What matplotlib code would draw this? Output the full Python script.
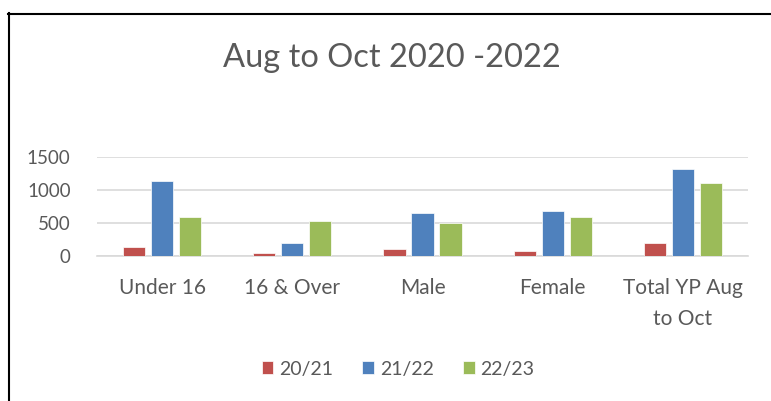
import numpy as np
import matplotlib
matplotlib.use('Agg')
import matplotlib.pyplot as plt
from matplotlib.lines import Line2D

categories = ['Under 16', '16 & Over', 'Male', 'Female', 'Total YP Aug\nto Oct']
series = ['20/21', '21/22', '22/23']
v2021 = [130, 40, 100, 70, 190]
v2122 = [1135, 195, 650, 680, 1315]
v2223 = [590, 525, 495, 590, 1105]
COL = {'20/21': '#C0504D', '21/22': '#4F81BD', '22/23': '#9BBB59'}
TXT = '#595959'

plt.rcParams.update({'font.family': ['Lato', 'DejaVu Sans']})

fig = plt.figure(figsize=(7.71, 4.01), dpi=100)
ax = fig.add_axes([97 / 771, 1 - 256 / 401, 651 / 771, 99 / 401])

x = np.arange(len(categories))
w = 0.17
step = 0.215
for k, (s, vals) in enumerate(zip(series, [v2021, v2122, v2223])):
    ax.bar(x + (k - 1) * step, vals, w, color=COL[s], edgecolor='white', lw=0.5, label=s, zorder=3)

ax.set_xlim(-0.5, 4.5); ax.set_ylim(0, 1500)
ax.set_yticks([0, 500, 1000, 1500])
ax.grid(axis='y', color='#D9D9D9', lw=1.2, zorder=0)
for sp in ('top', 'right', 'left'):
    ax.spines[sp].set_visible(False)
ax.spines['bottom'].set_color('#D9D9D9'); ax.spines['bottom'].set_linewidth(1.2)
ax.set_xticks(x); ax.set_xticklabels(categories, fontsize=15, color=TXT, linespacing=1.65, va='top')
ax.tick_params(axis='x', length=0, colors=TXT, labelsize=15, pad=16)
ax.tick_params(axis='y', length=0, colors=TXT, labelsize=13.5, pad=19)

fig.text(392 / 771, 1 - 58 / 401, 'Aug to Oct 2020 -2022', ha='center', va='center',
         fontsize=23.5, color=TXT)
fig.legend(loc='center', bbox_to_anchor=(398 / 771, 1 - 369 / 401), ncol=3, frameon=False,
           fontsize=14, labelcolor=TXT, handlelength=0.6, handleheight=0.6, handletextpad=0.3,
           columnspacing=1.5)

# chart border (top and left edges only, as in the screenshot)
fig.add_artist(Line2D([8 / 771, 1], [1 - 13.5 / 401] * 2, color='black', lw=1.5, transform=fig.transFigure))
fig.add_artist(Line2D([8.5 / 771] * 2, [0, 1 - 13 / 401], color='black', lw=1.5, transform=fig.transFigure))

fig.savefig('out.png', dpi=100)
